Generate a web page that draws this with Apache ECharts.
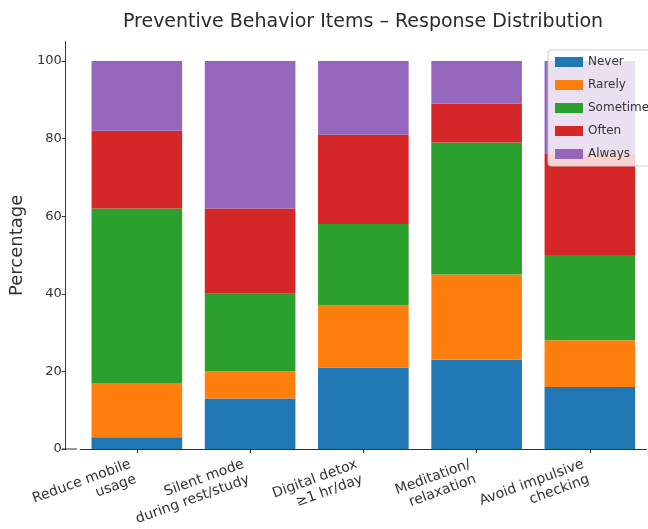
<!DOCTYPE html>
<html>
<head>
<meta charset="utf-8">
<script src="https://cdn.jsdelivr.net/npm/echarts@6/dist/echarts.min.js"></script>
<style>html,body{margin:0;padding:0;background:#fff}#c{width:648px;height:529px}</style>
</head>
<body>
<div id="c"></div>
<script>
const categories = ["Reduce mobile\nusage", "Silent mode\nduring rest/study", "Digital detox\n≥1 hr/day", "Meditation/\nrelaxation", "Avoid impulsive\nchecking"];
const seriesNames = ["Never", "Rarely", "Sometimes", "Often", "Always"];
const never = [3, 13, 21, 23, 16];
const rarely = [14, 7, 16, 22, 12];
const sometimes = [45, 20, 21, 34, 22];
const often = [20, 22, 23, 10, 26];
const always = [18, 38, 19, 11, 24];
const yTicks = [0, 20, 40, 60, 80, 100];
const colors = ["#1f77b4", "#ff7f0e", "#2ca02c", "#d62728", "#9467bd"];

const values = [never, rarely, sometimes, often, always];
const font = "DejaVu Sans";
const chart = echarts.init(document.getElementById('c'));
chart.setOption({
  animation: false,
  textStyle: { fontFamily: font },
  title: {
    text: "Preventive Behavior Items – Response Distribution",
    left: 358, top: 8, textAlign: 'center',
    textStyle: { fontFamily: font, fontSize: 19, fontWeight: 'normal', color: '#2a2a2a' }
  },
  legend: {
    orient: 'vertical', left: 548, top: 50,
    itemWidth: 28, itemHeight: 10, itemGap: 11,
    padding: [6, 6, 6, 7],
    backgroundColor: 'rgba(255,255,255,0.8)', borderColor: '#ccc', borderWidth: 1, borderRadius: 3,
    textStyle: { fontFamily: font, fontSize: 12, color: '#333' },
    data: seriesNames.map(n => ({ name: n, icon: 'rect' }))
  },
  grid: { left: 76.5, right: 1.5, top: 41.6, bottom: 80, containLabel: false },
  xAxis: {
    type: 'category', data: categories,
    axisLine: { lineStyle: { color: '#333', width: 1 } },
    axisTick: { show: true, alignWithLabel: true, length: 4, lineStyle: { color: '#333' } },
    axisLabel: { rotate: 20, margin: 21, padding: [0, 4, 0, 0], fontSize: 14, color: '#333', fontFamily: font, interval: 0, lineHeight: 16 },
    splitLine: { show: false }
  },
  yAxis: {
    type: 'value', min: 0, max: 105, interval: 20, offset: 14.5,
    name: 'Percentage', nameLocation: 'middle', nameGap: 28,
    nameTextStyle: { fontSize: 18, color: '#333', fontFamily: font },
    axisLine: { show: true, lineStyle: { color: '#333', width: 1 } },
    axisTick: { show: true, length: 4, customValues: yTicks, lineStyle: { color: '#333' } },
    axisLabel: { fontSize: 13, color: '#333', margin: 4, fontFamily: font, customValues: yTicks },
    splitLine: { show: false }
  },
  series: seriesNames.map((n, i) => ({
    name: n, type: 'bar', stack: 'total', data: values[i],
    barWidth: '80%', itemStyle: { color: colors[i] }
  }))
});
const p0 = chart.convertToPixel({ yAxisIndex: 0 }, 0);
chart.setOption({
  graphic: [{ type: 'line', shape: { x1: 62, y1: p0, x2: 77, y2: p0 }, style: { stroke: '#333', lineWidth: 1 }, z: 10 }]
});
</script>
</body>
</html>
